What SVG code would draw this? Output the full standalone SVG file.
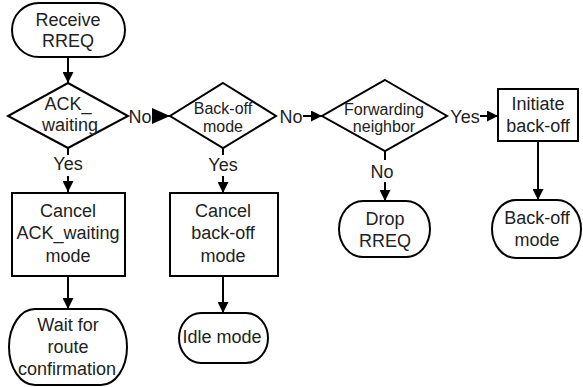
<svg xmlns="http://www.w3.org/2000/svg" width="583" height="387" viewBox="0 0 583 387">
<defs>
<style>
.s{fill:#fff;stroke:#000;stroke-width:2}
.c{fill:none;stroke:#000;stroke-width:2}
text{font-family:"Liberation Sans",Arial,sans-serif;font-size:18px;fill:#222;text-anchor:middle}
.sm{font-size:16px}
</style>
<marker id="a" viewBox="0 0 10 10" refX="10" refY="5" markerWidth="5.5" markerHeight="5.5" orient="auto" markerUnits="strokeWidth"><path d="M0,0L10,5L0,10z" fill="#000"/></marker>
<marker id="b" viewBox="0 0 10 10" refX="10" refY="5" markerWidth="9" markerHeight="8" orient="auto" markerUnits="strokeWidth" preserveAspectRatio="none"><path d="M0,0L10,5L0,10z" fill="#000"/></marker>
</defs>
<g id="connectors">
<line class="c" x1="68" y1="57" x2="68" y2="83" marker-end="url(#a)"/>
<line class="c" x1="68" y1="148" x2="68" y2="155"/>
<line class="c" x1="68" y1="176" x2="68" y2="192" marker-end="url(#a)"/>
<line class="c" x1="152" y1="116" x2="170" y2="116" marker-end="url(#b)"/>
<line class="c" x1="223" y1="148" x2="223" y2="155"/>
<line class="c" x1="223" y1="176" x2="223" y2="193" marker-end="url(#a)"/>
<line class="c" x1="303" y1="116" x2="322" y2="116" marker-end="url(#a)"/>
<line class="c" x1="480" y1="116" x2="498" y2="116" marker-end="url(#a)"/>
<line class="c" x1="385" y1="151" x2="385" y2="160"/>
<line class="c" x1="385" y1="182" x2="385" y2="201" marker-end="url(#a)"/>
<line class="c" x1="538" y1="141" x2="538" y2="200" marker-end="url(#a)"/>
<line class="c" x1="68" y1="276" x2="68" y2="309" marker-end="url(#a)"/>
<line class="c" x1="223" y1="276" x2="223" y2="313" marker-end="url(#a)"/>
<text x="140" y="123">No</text>
<text x="291" y="123">No</text>
<text x="465" y="123">Yes</text>
<text x="68" y="170">Yes</text>
<text x="223" y="171">Yes</text>
<text x="382" y="178">No</text>
</g>
<g id="receive">
<rect class="s" x="12" y="3" width="113" height="54" rx="27" ry="27"/>
<text x="68" y="26">Receive</text>
<text x="68" y="47">RREQ</text>
</g>
<g id="ack-waiting">
<path class="s" d="M68,83L128,116L68,148L8,116z"/>
<text x="68" y="110">ACK_</text>
<text x="70" y="131">waiting</text>
</g>
<g id="backoff-mode-check">
<path class="s" d="M223,83L276,116L223,148L170,116z"/>
<text class="sm" x="223" y="114">Back-off</text>
<text class="sm" x="223" y="132">mode</text>
</g>
<g id="forwarding-neighbor">
<path class="s" d="M385,80L447,116L385,151L322,116z"/>
<text class="sm" x="384" y="115">Forwarding</text>
<text class="sm" x="384" y="132">neighbor</text>
</g>
<g id="initiate-backoff">
<rect class="s" x="498" y="89" width="80" height="52"/>
<text x="538" y="110">Initiate</text>
<text x="538" y="132">back-off</text>
</g>
<g id="cancel-ack">
<rect class="s" x="12" y="193" width="113" height="83"/>
<text x="68" y="217">Cancel</text>
<text x="68" y="239">ACK_waiting</text>
<text x="68" y="262">mode</text>
</g>
<g id="cancel-backoff">
<rect class="s" x="170" y="193" width="108" height="83"/>
<text x="223" y="217">Cancel</text>
<text x="223" y="239">back-off</text>
<text x="223" y="262">mode</text>
</g>
<g id="wait-route">
<rect class="s" x="9" y="309" width="118" height="76" rx="26" ry="38"/>
<text x="68" y="331">Wait for</text>
<text x="68" y="353">route</text>
<text x="67" y="375">confirmation</text>
</g>
<g id="idle-mode">
<rect class="s" x="179" y="313" width="89" height="50" rx="22" ry="25"/>
<text x="222" y="343">Idle mode</text>
</g>
<g id="drop-rreq">
<rect class="s" x="339" y="201" width="91" height="56" rx="24" ry="28"/>
<text x="385" y="225">Drop</text>
<text x="385" y="247">RREQ</text>
</g>
<g id="backoff-mode">
<rect class="s" x="492" y="200" width="89" height="58" rx="24" ry="29"/>
<text x="537" y="224">Back-off</text>
<text x="537" y="246">mode</text>
</g>
</svg>
